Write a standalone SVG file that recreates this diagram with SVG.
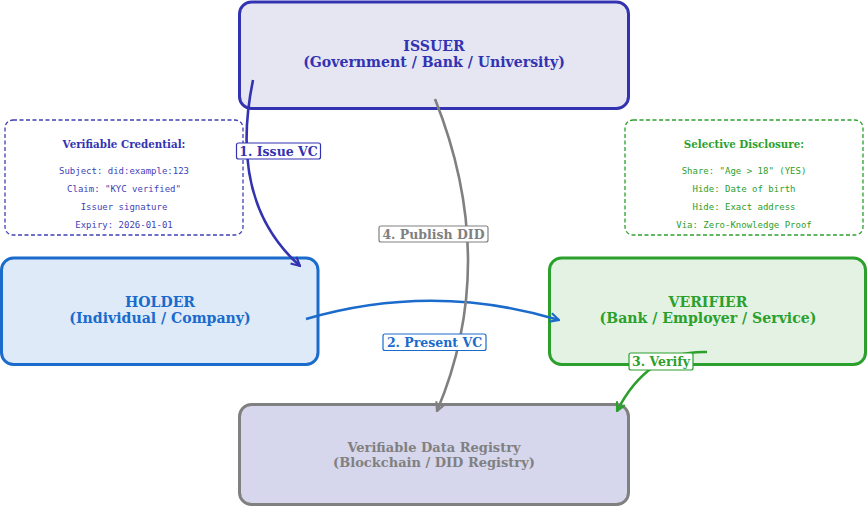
<svg xmlns="http://www.w3.org/2000/svg" width="867" height="506" viewBox="0 0 867 506">
  <style>
    .node { stroke-width: 3; }
    .title { font-family: "DejaVu Serif", "Liberation Serif", serif; font-weight: bold; font-size: 14.1px; text-anchor: middle; }
    .title.small { font-size: 13px; }
    .note { fill: #ffffff; stroke-width: 1.3; stroke-dasharray: 4 2.5; }
    .note-head { font-family: "DejaVu Serif", "Liberation Serif", serif; font-weight: bold; font-size: 10.3px; text-anchor: middle; }
    .note-line { font-family: "DejaVu Sans Mono", "Liberation Mono", monospace; font-size: 9px; text-anchor: middle; }
    .edge { fill: none; stroke-width: 2.6; }
    .tag { fill: #ffffff; stroke-width: 1.2; }
    .tag-text { font-family: "DejaVu Serif", "Liberation Serif", serif; font-weight: bold; font-size: 12.5px; text-anchor: middle; }
  </style>
  <defs>
    <marker id="head-issuer" viewBox="0 0 10 10" refX="9" refY="5" markerWidth="4.2" markerHeight="4.2" orient="auto" markerUnits="strokeWidth">
      <path d="M1,1 L9,5 L1,9" fill="none" stroke="#3333b2" stroke-width="2"/>
    </marker>
    <marker id="head-holder" viewBox="0 0 10 10" refX="9" refY="5" markerWidth="4.2" markerHeight="4.2" orient="auto" markerUnits="strokeWidth">
      <path d="M1,1 L9,5 L1,9" fill="none" stroke="#1a6bcc" stroke-width="2"/>
    </marker>
    <marker id="head-verifier" viewBox="0 0 10 10" refX="9" refY="5" markerWidth="4.2" markerHeight="4.2" orient="auto" markerUnits="strokeWidth">
      <path d="M1,1 L9,5 L1,9" fill="none" stroke="#2ca02c" stroke-width="2"/>
    </marker>
    <marker id="head-registry" viewBox="0 0 10 10" refX="9" refY="5" markerWidth="4.2" markerHeight="4.2" orient="auto" markerUnits="strokeWidth">
      <path d="M1,1 L9,5 L1,9" fill="none" stroke="#808080" stroke-width="2"/>
    </marker>
  </defs>

  <rect width="867" height="506" fill="#ffffff"/>

  <!-- credential details -->
  <g id="credential-note">
    <rect class="note" x="5" y="120" width="238" height="115" rx="8" stroke="#3f3fb5"/>
    <text class="note-head" x="124" y="148" fill="#3333b2">Verifiable Credential:</text>
    <text class="note-line" x="124" y="174" fill="#3f3fb5">Subject: did:example:123</text>
    <text class="note-line" x="124" y="192" fill="#3f3fb5">Claim: "KYC verified"</text>
    <text class="note-line" x="124" y="210" fill="#3f3fb5">Issuer signature</text>
    <text class="note-line" x="124" y="228" fill="#3f3fb5">Expiry: 2026-01-01</text>
  </g>

  <!-- disclosure details -->
  <g id="disclosure-note">
    <rect class="note" x="625" y="120" width="238" height="115" rx="8" stroke="#2ca02c"/>
    <text class="note-head" x="744" y="148" fill="#2ca02c">Selective Disclosure:</text>
    <text class="note-line" x="744" y="174" fill="#2ca02c">Share: "Age &gt; 18" (YES)</text>
    <text class="note-line" x="744" y="192" fill="#2ca02c">Hide: Date of birth</text>
    <text class="note-line" x="744" y="210" fill="#2ca02c">Hide: Exact address</text>
    <text class="note-line" x="744" y="228" fill="#2ca02c">Via: Zero-Knowledge Proof</text>
  </g>

  <!-- parties -->
  <g id="issuer">
    <rect class="node" x="239.5" y="2" width="389" height="106.5" rx="12" fill="#e6e6f3" stroke="#3333b2"/>
    <text class="title" x="434" y="51" fill="#3333b2">ISSUER</text>
    <text class="title" x="434" y="67" fill="#3333b2">(Government / Bank / University)</text>
  </g>
  <g id="holder">
    <rect class="node" x="1.5" y="258" width="316.5" height="106.5" rx="12" fill="#deeaf7" stroke="#1a6bcc"/>
    <text class="title" x="160" y="307" fill="#1a6bcc">HOLDER</text>
    <text class="title" x="160" y="323" fill="#1a6bcc">(Individual / Company)</text>
  </g>
  <g id="verifier">
    <rect class="node" x="549.5" y="258" width="316" height="106.5" rx="12" fill="#e3f2e3" stroke="#2ca02c"/>
    <text class="title" x="708" y="307" fill="#2ca02c">VERIFIER</text>
    <text class="title" x="708" y="323" fill="#2ca02c">(Bank / Employer / Service)</text>
  </g>
  <g id="registry">
    <rect class="node" x="239.5" y="404.5" width="389" height="100" rx="12" fill="#d6d6ec" stroke="#808080"/>
    <text class="title small" x="434" y="452" fill="#808080">Verifiable Data Registry</text>
    <text class="title small" x="434" y="467" fill="#808080">(Blockchain / DID Registry)</text>
  </g>

  <!-- flows between parties -->
  <g id="connectors">
    <path class="edge" d="M253,80 Q228,202 300,266" stroke="#3333b2" marker-end="url(#head-issuer)"/>
    <path class="edge" d="M306,319 Q433,282 559,320" stroke="#1a6bcc" marker-end="url(#head-holder)"/>
    <path class="edge" d="M707,352 Q648,350 617,411" stroke="#2ca02c" marker-end="url(#head-verifier)"/>
    <path class="edge" d="M435,99 Q500,262 437,411" stroke="#808080" marker-end="url(#head-registry)"/>

    <rect class="tag" x="236.5" y="143" width="84" height="16" rx="2" stroke="#3333b2"/>
    <text class="tag-text" x="278.5" y="156" fill="#3333b2">1. Issue VC</text>
    <rect class="tag" x="383" y="334" width="103" height="16.5" rx="2" stroke="#1a6bcc"/>
    <text class="tag-text" x="434.5" y="347" fill="#1a6bcc">2. Present VC</text>
    <rect class="tag" x="629" y="353" width="64" height="17" rx="2" stroke="#2ca02c"/>
    <text class="tag-text" x="661" y="366" fill="#2ca02c">3. Verify</text>
    <rect class="tag" x="379" y="226" width="109" height="16" rx="2" stroke="#808080"/>
    <text class="tag-text" x="433.5" y="239" fill="#808080">4. Publish DID</text>
  </g>
</svg>
